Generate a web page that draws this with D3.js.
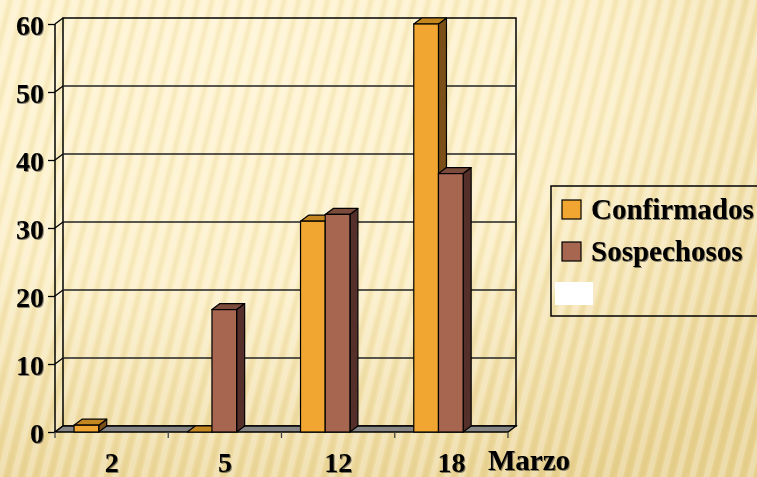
<!DOCTYPE html>
<html><head><meta charset="utf-8">
<script src="https://cdn.jsdelivr.net/npm/d3@7/dist/d3.min.js"></script>
<style>html,body{margin:0;padding:0;overflow:hidden;background:#f6e6b4}</style>
</head><body>
<script>
const categories = ["2", "5", "12", "18"];
const seriesNames = ["Confirmados", "Sospechosos"];
const confirmados = [1, 0, 31, 60];
const sospechosos = [null, 18, 32, 38];
const yTicks = [0, 10, 20, 30, 40, 50, 60];
const axisTitle = "Marzo";

const W = 757, H = 477;
const FONT = "'Liberation Serif', 'Times New Roman', serif";
const svg = d3.select("body").append("svg").attr("width", W).attr("height", H)
  .style("display", "block");
const defs = svg.append("defs");

// background
const rg = defs.append("radialGradient").attr("id", "bg")
  .attr("cx", 0.3).attr("cy", 0.12).attr("r", 1.0);
rg.append("stop").attr("offset", 0).attr("stop-color", "#fef3cf");
rg.append("stop").attr("offset", 0.5).attr("stop-color", "#fbeec4");
rg.append("stop").attr("offset", 1).attr("stop-color", "#e8d190");
const pat = defs.append("pattern").attr("id", "stripes").attr("patternUnits", "userSpaceOnUse")
  .attr("width", 14).attr("height", 40).attr("patternTransform", "rotate(14)");
pat.append("rect").attr("x", 0).attr("y", 0).attr("width", 6).attr("height", 40)
  .attr("fill", "#ffffff").attr("opacity", 0.25);
pat.append("rect").attr("x", 8).attr("y", 0).attr("width", 4).attr("height", 40)
  .attr("fill", "#c9a550").attr("opacity", 0.10);
svg.append("rect").attr("width", W).attr("height", H).attr("fill", "url(#bg)");
svg.append("rect").attr("width", W).attr("height", H).attr("fill", "url(#stripes)");

const sh = defs.append("filter").attr("id", "tsh").attr("x", "-10%").attr("y", "-10%")
  .attr("width", "130%").attr("height", "130%");
sh.append("feDropShadow").attr("dx", 1).attr("dy", 1).attr("stdDeviation", 0.7)
  .attr("flood-color", "#000").attr("flood-opacity", 0.45);

// scales
const DX = 8, DY = -6;
const x = d3.scaleBand().domain(categories).range([55, 508]);
const y = d3.scaleLinear().domain([0, 60]).range([432, 24]);
const bw = x.bandwidth();
const xi = d3.scaleBand().domain(seriesNames).range([bw * 0.168, bw * 0.604]);

const g = svg.append("g");
const x0 = x.range()[0], x1 = x.range()[1];

// back wall
g.append("rect").attr("x", x0 + DX).attr("y", y(60) + DY)
  .attr("width", x1 - x0).attr("height", y(0) - y(60))
  .attr("fill", "none").attr("stroke", "#000").attr("stroke-width", 1.5);
// gridlines on back wall and left wall
yTicks.forEach(t => {
  if (t > 0 && t < 60) {
    g.append("line").attr("x1", x0 + DX).attr("x2", x1 + DX)
      .attr("y1", y(t) + DY).attr("y2", y(t) + DY)
      .attr("stroke", "#222").attr("stroke-width", 1.3);
  }
  g.append("line").attr("x1", x0).attr("x2", x0 + DX)
    .attr("y1", y(t)).attr("y2", y(t) + DY)
    .attr("stroke", "#000").attr("stroke-width", 1.3);
});
// left wall front edge
g.append("line").attr("x1", x0).attr("x2", x0).attr("y1", y(60)).attr("y2", y(0))
  .attr("stroke", "#000").attr("stroke-width", 1.5);
// floor
g.append("polygon").attr("points", [
  [x0, y(0)], [x0 + DX, y(0) + DY], [x1 + DX, y(0) + DY], [x1, y(0)]
].map(p => p.join(",")).join(" "))
  .attr("fill", "#858585").attr("stroke", "#000").attr("stroke-width", 1.3);

// y axis ticks
const yAxis = d3.axisLeft(y).tickValues(yTicks).tickSize(7).tickPadding(4);
const ya = g.append("g").attr("transform", `translate(${x0},0)`).call(yAxis);
ya.select(".domain").remove();
ya.selectAll(".tick line").attr("stroke", "#000").attr("stroke-width", 1.3);
ya.selectAll(".tick text").attr("font-family", FONT)
  .attr("font-weight", "bold").attr("font-size", 28).attr("fill", "#000").attr("dy", "0.36em")
  .attr("filter", "url(#tsh)");

// x axis ticks at band boundaries
const bounds = categories.map(c => x(c)).concat([x1]);
g.selectAll(".xt").data(bounds).enter().append("line")
  .attr("x1", d => d).attr("x2", d => d).attr("y1", y(0)).attr("y2", y(0) + 6)
  .attr("stroke", "#444").attr("stroke-width", 1.3);
g.selectAll(".xl").data(categories).enter().append("text")
  .attr("x", d => x(d) + bw / 2).attr("y", 472).attr("text-anchor", "middle")
  .attr("font-family", FONT).attr("filter", "url(#tsh)")
  .attr("font-weight", "bold").attr("font-size", 28).attr("fill", "#000").text(d => d);
g.append("text").attr("x", 488).attr("y", 470)
  .attr("font-family", FONT).attr("filter", "url(#tsh)")
  .attr("font-weight", "bold").attr("font-size", 29).attr("fill", "#000").text(axisTitle);

// bars
const colors = {
  Confirmados: { front: "#f0a630", top: "#c4861f", side: "#7a4f18" },
  Sospechosos: { front: "#a66650", top: "#7b4b3b", side: "#55302a" }
};
const data = [];
categories.forEach((c, i) => {
  data.push({ cat: c, s: "Confirmados", v: confirmados[i] });
  data.push({ cat: c, s: "Sospechosos", v: sospechosos[i] });
});
const barW = xi.bandwidth();
data.filter(d => d.v !== null).forEach(d => {
  const bx = x(d.cat) + xi(d.s);
  const top = y(d.v), bot = y(0);
  const col = colors[d.s];
  const bg = g.append("g");
  bg.append("polygon").attr("points", [
    [bx + barW, top], [bx + barW + DX, top + DY], [bx + barW + DX, bot + DY], [bx + barW, bot]
  ].map(p => p.join(",")).join(" "))
    .attr("fill", col.side).attr("stroke", "#000").attr("stroke-width", 1.2).attr("stroke-linejoin", "round");
  bg.append("polygon").attr("points", [
    [bx, top], [bx + DX, top + DY], [bx + barW + DX, top + DY], [bx + barW, top]
  ].map(p => p.join(",")).join(" "))
    .attr("fill", col.top).attr("stroke", "#000").attr("stroke-width", 1.2).attr("stroke-linejoin", "round");
  bg.append("rect").attr("x", bx).attr("y", top).attr("width", barW).attr("height", bot - top)
    .attr("fill", col.front).attr("stroke", "#000").attr("stroke-width", 1.2);
});

// legend
const lg = svg.append("g");
lg.append("rect").attr("x", 551).attr("y", 186).attr("width", 230).attr("height", 130)
  .attr("fill", "none").attr("stroke", "#000").attr("stroke-width", 1.5);
seriesNames.forEach((s, i) => {
  const yy = 200 + i * 42;
  lg.append("rect").attr("x", 562).attr("y", yy).attr("width", 19).attr("height", 19)
    .attr("fill", colors[s].front).attr("stroke", "#000").attr("stroke-width", 1.2);
  lg.append("text").attr("x", 591).attr("y", yy + 19)
    .attr("font-family", FONT).attr("filter", "url(#tsh)")
    .attr("font-weight", "bold").attr("font-size", 29).attr("fill", "#000").text(s);
});
lg.append("rect").attr("x", 555).attr("y", 282).attr("width", 38).attr("height", 23).attr("fill", "#ffffff");
</script>
</body></html>
